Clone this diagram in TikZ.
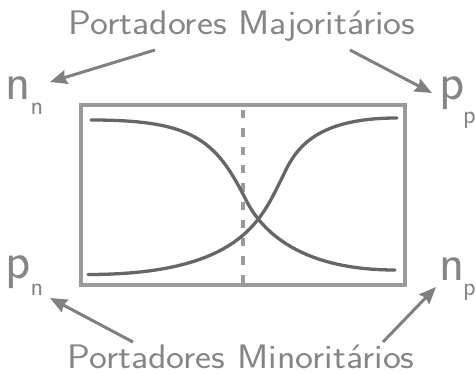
\documentclass[tikz,border=0pt]{standalone}
\usepackage{fontspec}
\usetikzlibrary{arrows.meta}
\definecolor{txtgray}{HTML}{858585}
\definecolor{boxgray}{HTML}{9A9A9A}
\definecolor{curvegray}{HTML}{666666}
\definecolor{arrgray}{HTML}{808080}
\tikzset{
  title/.style={inner sep=0pt, anchor=base, text=txtgray, font=\sffamily\fontsize{34}{40}\selectfont},
  biglab/.style={inner sep=0pt, anchor=base west, text=txtgray, font=\sffamily\fontsize{52}{60}\selectfont},
  sublab/.style={inner sep=0pt, anchor=base west, text=txtgray, font=\sffamily\fontsize{26}{30}\selectfont},
  pointer/.style={draw=arrgray, line width=3pt, -{Stealth[length=17pt,width=14pt,inset=2pt]}},
  frame/.style={draw=boxgray, line width=3.4pt},
  junction/.style={draw=boxgray, line width=4pt, dash pattern=on 8.3pt off 10pt},
  conc/.style={draw=curvegray, line width=3.3pt, line cap=round}
}
\begin{document}
\begin{tikzpicture}[x=1pt,y=-1pt]
\useasboundingbox (0,0) rectangle (476,374);
% titles
\node[title] (maj) at (242,35) {\scalebox{1.12}[1]{Portadores Majoritários}};
\node[title] (min) at (241,368) {\scalebox{1.12}[1]{Portadores Minoritários}};
% labels
\node[biglab] (nn) at (5,100) {n};
\node[sublab] (nnsub) at (30.5,115) {n};
\node[biglab] (pp) at (439,100) {p};
\node[sublab] (ppsub) at (463,124) {p};
\node[biglab] (pn) at (5,278) {p};
\node[sublab] (pnsub) at (30.5,295) {n};
\node[biglab] (np) at (439,280) {n};
\node[sublab] (npsub) at (463,295) {p};
% box
\draw[frame] (81,105) rectangle (405,285);
% junction line
\coordinate (jtop) at (243,110);
\coordinate (jbot) at (243,292);
\draw[junction] (jtop) -- (jbot);
% concentration curves
\draw[conc] (91,120) .. controls (192,120) and (215.5,139) .. (246,200)
                     .. controls (261,230) and (299,270) .. (395,270);
\draw[conc] (88,274.5) .. controls (237,274.5) and (260,222) .. (280,182)
                       .. controls (292,158) and (304,118) .. (397,118);
% arrows
\coordinate (a1s) at (155,50);
\coordinate (a1e) at (50,82);
\coordinate (a2s) at (350,50);
\coordinate (a2e) at (432,93);
\coordinate (a3s) at (133,342);
\coordinate (a3e) at (50,298);
\coordinate (a4s) at (383,342);
\coordinate (a4e) at (436,287);
\draw[pointer] (a1s) -- (a1e);
\draw[pointer] (a2s) -- (a2e);
\draw[pointer] (a3s) -- (a3e);
\draw[pointer] (a4s) -- (a4e);
\end{tikzpicture}
\end{document}
